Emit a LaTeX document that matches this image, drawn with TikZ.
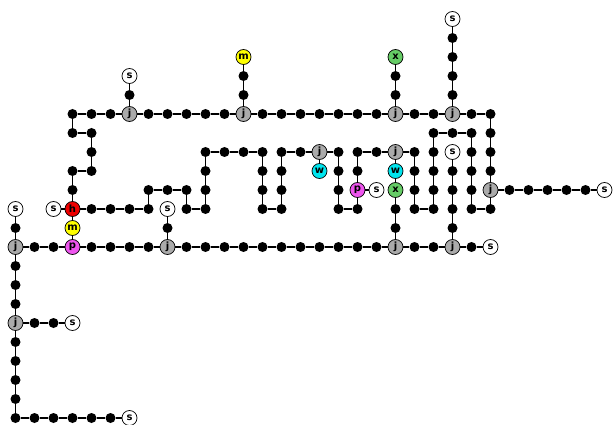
\documentclass[tikz,border=0pt]{standalone}
\usepackage{fontspec}
\newfontfamily\labfont{DejaVu Sans}
\definecolor{jgray}{HTML}{AAAAAA}
\definecolor{hred}{HTML}{EE0000}
\definecolor{myel}{HTML}{FFFF00}
\definecolor{pmag}{HTML}{EE55EE}
\definecolor{wcyan}{HTML}{00E5EE}
\definecolor{xgreen}{HTML}{66CC66}
\tikzset{
  dot/.style={circle,fill=black,minimum size=10pt,inner sep=0pt},
  lab/.style={circle,draw=black,line width=0.7pt,minimum size=15pt,inner sep=0pt,font=\labfont\bfseries\fontsize{10}{10}\selectfont},
  jn/.style={lab,fill=jgray},
  sn/.style={lab,fill=white},
  hn/.style={lab,fill=hred},
  mn/.style={lab,fill=myel},
  pn/.style={lab,fill=pmag},
  wn/.style={lab,fill=wcyan},
  xn/.style={lab,fill=xgreen},
  edge/.style={line width=1.1pt,black}
}
\begin{document}
\begin{tikzpicture}[x=19pt,y=-19pt,shift={(15.5pt,-19pt)}]
\useasboundingbox (-0.81579,-1) rectangle (31.60526,21.36842);
% black dots
\foreach \cc/\rr in {3/5,4/5,5/5,7/5,8/5,9/5,10/5,11/5,13/5,14/5,15/5,16/5,17/5,18/5,19/5,21/5,22/5,24/5,25/5,
  6/4,12/4,12/3,20/4,20/3,23/4,23/3,23/2,23/1,
  3/6,4/6,4/7,4/8,3/8,3/9,
  4/10,5/10,6/10,7/10,7/9,8/9,9/9,9/10,10/10,10/9,10/8,10/7,11/7,12/7,13/7,13/8,13/9,13/10,
  14/10,14/9,14/8,14/7,15/7,17/7,17/8,17/9,17/10,18/10,18/8,18/7,19/7,20/10,20/11,
  21/7,21/8,21/9,21/10,22/10,22/9,22/8,22/7,22/6,23/6,24/6,24/7,24/8,24/9,24/10,25/10,25/6,25/7,25/8,
  26/9,27/9,28/9,29/9,30/9,23/8,23/9,23/10,23/11,24/12,
  1/12,2/12,4/12,5/12,6/12,7/12,9/12,10/12,11/12,12/12,13/12,14/12,15/12,16/12,17/12,18/12,19/12,21/12,22/12,
  8/11,0/11,0/13,0/14,0/15,1/16,2/16,0/17,0/18,0/19,0/20,0/21,1/21,2/21,3/21,4/21,5/21}
  \node[dot] (c\cc r\rr) at (\cc,\rr) {};
% junctions
\foreach \cc/\rr in {6/5,12/5,20/5,23/5,16/7,20/7,25/9,0/12,8/12,20/12,23/12,0/16}
  \node[jn] (c\cc r\rr) at (\cc,\rr) {j};
% sources
\foreach \cc/\rr in {6/3,23/0,2/10,19/9,31/9,23/7,25/12,8/10,0/10,3/16,6/21}
  \node[sn] (c\cc r\rr) at (\cc,\rr) {s};
\node[hn] (c3r10) at (3,10) {h};
\node[mn] (c12r2) at (12,2) {m};
\node[mn] (c3r11) at (3,11) {m};
\node[pn] (c3r12) at (3,12) {p};
\node[pn] (c18r9) at (18,9) {p};
\node[wn] (c16r8) at (16,8) {w};
\node[wn] (c20r8) at (20,8) {w};
\node[xn] (c20r2) at (20,2) {x};
\node[xn] (c20r9) at (20,9) {x};
% edges
\foreach \a [evaluate=\a as \b using int(\a+1)] in {3,...,24}
  \draw[edge] (c\a r5) -- (c\b r5);
\foreach \a [evaluate=\a as \b using int(\a+1)] in {0,...,24}
  \draw[edge] (c\a r12) -- (c\b r12);
\foreach \a [evaluate=\a as \b using int(\a+1)] in {25,...,30}
  \draw[edge] (c\a r9) -- (c\b r9);
\foreach \a [evaluate=\a as \b using int(\a+1)] in {0,...,5}
  \draw[edge] (c\a r21) -- (c\b r21);
\foreach \a [evaluate=\a as \b using int(\a+1)] in {10,...,20}
  \draw[edge] (c0r\a) -- (c0r\b);
\foreach \a [evaluate=\a as \b using int(\a+1)] in {0,...,4}
  \draw[edge] (c23r\a) -- (c23r\b);
\foreach \a [evaluate=\a as \b using int(\a+1)] in {7,...,11}
  \draw[edge] (c23r\a) -- (c23r\b);
\foreach \a [evaluate=\a as \b using int(\a+1)] in {7,...,11}
  \draw[edge] (c20r\a) -- (c20r\b);
\draw[edge] (c6r5) -- (c6r4) -- (c6r3);
\draw[edge] (c12r5) -- (c12r4) -- (c12r3) -- (c12r2);
\draw[edge] (c20r5) -- (c20r4) -- (c20r3) -- (c20r2);
\draw[edge] (c3r5) -- (c3r6) -- (c4r6) -- (c4r7) -- (c4r8) -- (c3r8) -- (c3r9) -- (c3r10);
\draw[edge] (c2r10) -- (c3r10) -- (c3r11) -- (c3r12);
\draw[edge] (c3r10) -- (c4r10) -- (c5r10) -- (c6r10) -- (c7r10) -- (c7r9) -- (c8r9) -- (c9r9)
  -- (c9r10) -- (c10r10) -- (c10r9) -- (c10r8) -- (c10r7) -- (c11r7) -- (c12r7) -- (c13r7)
  -- (c13r8) -- (c13r9) -- (c13r10) -- (c14r10) -- (c14r9) -- (c14r8) -- (c14r7) -- (c15r7)
  -- (c16r7) -- (c17r7) -- (c17r8) -- (c17r9) -- (c17r10) -- (c18r10) -- (c18r9) -- (c18r8)
  -- (c18r7) -- (c19r7) -- (c20r7) -- (c21r7) -- (c21r8) -- (c21r9) -- (c21r10) -- (c22r10)
  -- (c22r9) -- (c22r8) -- (c22r7) -- (c22r6) -- (c23r6) -- (c24r6) -- (c24r7) -- (c24r8)
  -- (c24r9) -- (c24r10) -- (c25r10) -- (c25r9) -- (c25r8) -- (c25r7) -- (c25r6) -- (c25r5);
\draw[edge] (c16r7) -- (c16r8);
\draw[edge] (c18r9) -- (c19r9);
\draw[edge] (c8r12) -- (c8r11) -- (c8r10);
\draw[edge] (c0r16) -- (c1r16) -- (c2r16) -- (c3r16);
\end{tikzpicture}
\end{document}
